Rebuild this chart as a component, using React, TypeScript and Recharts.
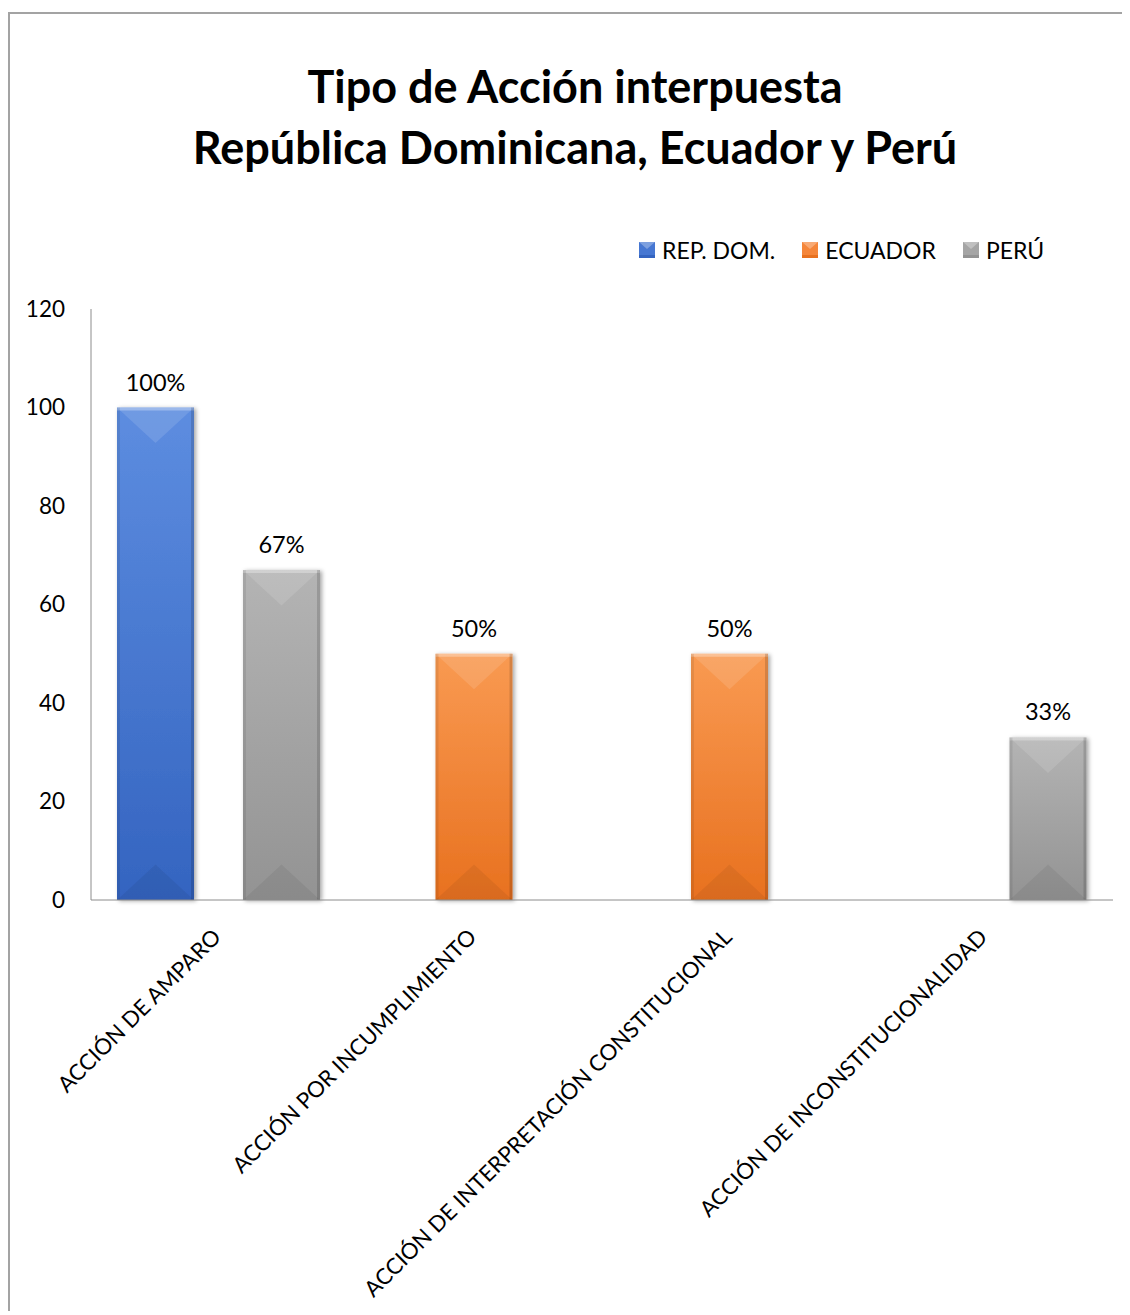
import { BarChart, Bar, XAxis, YAxis, Legend, LabelList } from 'recharts'

const CATEGORIES = [
  'ACCIÓN DE AMPARO',
  'ACCIÓN POR INCUMPLIMIENTO',
  'ACCIÓN DE INTERPRETACIÓN CONSTITUCIONAL',
  'ACCIÓN DE INCONSTITUCIONALIDAD',
]
const REP_DOM = [100, null, null, null]
const ECUADOR = [null, 50, 50, null]
const PERU = [67, null, null, 33]
const Y_TICKS = [0, 20, 40, 60, 80, 100, 120]

const SERIES = [
  { key: 'repDom', name: 'REP. DOM.', light: '#5d8de0', base: '#4677d2', dark: '#3464c0' },
  { key: 'ecuador', name: 'ECUADOR', light: '#f99a52', base: '#f5863a', dark: '#e8711f' },
  { key: 'peru', name: 'PERÚ', light: '#b4b4b4', base: '#a5a5a5', dark: '#939393' },
]

const data = CATEGORIES.map((name, i) => ({
  name,
  repDom: REP_DOM[i],
  ecuador: ECUADOR[i],
  peru: PERU[i],
}))

const FONT = 'Lato, "Open Sans", sans-serif'

function BevelBar(props: any) {
  const { x, y, width: w, height: h, value, sKey } = props
  if (value == null || !h || h <= 0) return null
  const d = Math.min(w * 0.46, h / 2)
  return (
    <g>
      <rect x={x} y={y} width={w} height={h} fill={`url(#grad-${sKey})`} filter="url(#barShadow)" />
      <polygon points={`${x},${y} ${x + w},${y} ${x + w / 2},${y + d}`} fill="#fff" fillOpacity={0.12} />
      <polygon points={`${x},${y + h} ${x + w},${y + h} ${x + w / 2},${y + h - d}`} fill="#000" fillOpacity={0.06} />
      <rect x={x} y={y} width={w} height={3} fill="#fff" fillOpacity={0.3} />
      <rect x={x} y={y} width={3} height={h} fill="#000" fillOpacity={0.08} />
      <rect x={x + w - 3} y={y} width={3} height={h} fill="#000" fillOpacity={0.14} />
    </g>
  )
}

function CategoryTick({ x, y, payload }: any) {
  return (
    <g transform={`translate(${x - 2},${y + 25})`}>
      <text
        x={0}
        y={0}
        dy="0.35em"
        textAnchor="end"
        transform="rotate(-45)"
        fontSize={22.2}
        fontFamily={FONT}
        fill="#000"
      >
        {payload.value}
      </text>
    </g>
  )
}

function LegendSquare({ s }: any) {
  return (
    <svg width={16} height={16} style={{ display: 'block' }}>
      <rect x={0} y={0} width={16} height={16} fill={s.base} />
      <polygon points="0,0 16,0 8,7" fill="#fff" fillOpacity={0.3} />
      <rect x={0} y={13} width={16} height={3} fill={s.dark} />
    </svg>
  )
}

function LegendContent() {
  return (
    <div style={{ display: 'flex', alignItems: 'center', fontFamily: FONT, fontSize: 23, color: '#000' }}>
      {SERIES.map((s, i) => (
        <div key={s.key} style={{ display: 'flex', alignItems: 'center', marginLeft: i === 0 ? 0 : 27 }}>
          <LegendSquare s={s} />
          <span style={{ marginLeft: 7, lineHeight: '24px' }}>{s.name}</span>
        </div>
      ))}
    </div>
  )
}

export default function App() {
  return (
    <div
      style={{
        position: 'relative',
        top: 4,
        width: 1122,
        height: 1303,
        borderTop: '2px solid #a3a3a3',
        borderLeft: '2px solid #a3a3a3',
        boxSizing: 'border-box',
        background: '#fff',
      }}
    >
      <div
        style={{
          position: 'absolute',
          left: -2,
          top: 42,
          width: 1134,
          textAlign: 'center',
          fontFamily: FONT,
          fontWeight: 700,
          fontSize: 45,
          lineHeight: '61px',
          color: '#000',
        }}
      >
        <div>Tipo de Acción interpuesta</div>
        <div>República Dominicana, Ecuador y Perú</div>
      </div>
      <div style={{ position: 'absolute', left: -2, top: -2 }}>
        <BarChart
          width={1122}
          height={1303}
          data={data}
          margin={{ top: 297, right: 17, bottom: 0, left: 0 }}
          barGap={-14}
        >
          <defs>
            {SERIES.map((s) => (
              <linearGradient key={s.key} id={`grad-${s.key}`} x1="0" y1="0" x2="0" y2="1">
                <stop offset="0%" stopColor={s.light} />
                <stop offset="100%" stopColor={s.dark} />
              </linearGradient>
            ))}
            <filter id="barShadow" x="-20%" y="-5%" width="140%" height="110%">
              <feDropShadow dx="2" dy="1" stdDeviation="2" floodColor="#000" floodOpacity="0.35" />
            </filter>
          </defs>
          <XAxis
            dataKey="name"
            height={415}
            tickLine={false}
            axisLine={{ stroke: '#8c8c8c', strokeWidth: 1 }}
            interval={0}
            tick={<CategoryTick />}
          />
          <YAxis
            width={83}
            domain={[0, 120]}
            ticks={Y_TICKS}
            tickLine={false}
            tickMargin={20}
            axisLine={{ stroke: '#8c8c8c', strokeWidth: 1 }}
            tick={{ fontSize: 22.5, fontFamily: FONT, fill: '#000' }}
          />
          <Legend
            verticalAlign="middle"
            align="center"
            layout="horizontal"
            content={<LegendContent />}
            wrapperStyle={{ left: 631, top: 226, width: 'auto' }}
          />
          {SERIES.map((s) => (
            <Bar
              key={s.key}
              dataKey={s.key}
              name={s.name}
              barSize={77}
              fill={s.base}
              isAnimationActive={false}
              shape={(p: any) => <BevelBar {...p} sKey={s.key} />}
            >
              <LabelList
                dataKey={s.key}
                position="top"
                offset={17}
                fontSize={23.5}
                fontFamily={FONT}
                fill="#000"
                formatter={(v: any) => (v == null ? '' : `${v}%`)}
              />
            </Bar>
          ))}
        </BarChart>
      </div>
    </div>
  )
}
